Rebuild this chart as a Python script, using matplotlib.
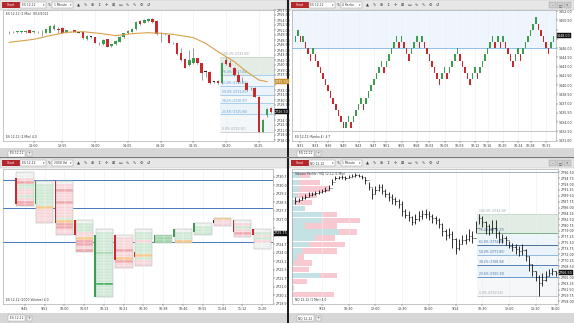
import matplotlib.pyplot as plt
from matplotlib.patches import Rectangle
from matplotlib.ticker import FixedLocator, FuncFormatter, MultipleLocator

W, H = 574, 323
UP, DOWN, DOJI = '#3d9b52', '#c8292c', '#222222'
FS = 2.3
SMALL = 2.2
FIB_RATIOS = [0.0, 0.236, 0.382, 0.5, 0.618, 0.764, 1.0]

# ---- top left: 1 minute candles, moving average, fib retracement ----
tl_open = [2750.3, 2750.4, 2750.3, 2750.3, 2750.3, 2750.9, 2750.3, 2750.4, 2750.4, 2750.2,
           2750.2, 2751.2, 2751.2, 2751.7, 2750.3, 2750.7, 2751.0, 2750.2, 2750.5, 2748.3,
           2749.0, 2748.8, 2747.0, 2746.8, 2748.2, 2746.2, 2746.7, 2747.5, 2748.9, 2750.0,
           2750.5, 2751.2, 2753.7, 2753.2, 2753.7, 2754.3, 2753.7, 2750.0, 2749.7, 2749.6,
           2747.0, 2747.0, 2744.0, 2742.3, 2740.5, 2741.0, 2742.5, 2741.0, 2738.5, 2738.5,
           2735.5, 2735.7, 2735.0, 2742.0, 2741.2, 2739.7, 2737.5, 2736.0, 2735.0, 2733.5,
           2733.5, 2731.0, 2720.5, 2725.5, 2727.5]
tl_high = [2750.7, 2750.7, 2750.8, 2750.8, 2750.9, 2751.0, 2750.8, 2750.7, 2751.0, 2751.4,
           2752.4, 2752.7, 2752.0, 2751.9, 2751.1, 2750.8, 2751.1, 2750.4, 2750.6, 2749.6,
           2749.3, 2749.0, 2747.4, 2748.2, 2748.4, 2746.9, 2748.0, 2749.2, 2750.2, 2751.0,
           2751.5, 2753.6, 2754.0, 2754.2, 2754.6, 2754.5, 2754.0, 2750.3, 2750.0, 2749.8,
           2747.3, 2747.2, 2745.5, 2742.5, 2745.0, 2745.5, 2742.7, 2741.2, 2739.0, 2738.7,
           2735.8, 2735.9, 2741.4, 2743.0, 2742.0, 2740.0, 2738.5, 2737.0, 2735.3, 2734.0,
           2733.8, 2731.2, 2724.2, 2727.5, 2728.0]
tl_low = [2749.8, 2750.1, 2750.2, 2750.2, 2750.2, 2750.1, 2750.2, 2750.1, 2749.2, 2750.0,
          2750.0, 2751.0, 2750.0, 2750.0, 2750.2, 2750.5, 2750.3, 2750.0, 2748.3, 2748.0,
          2748.7, 2747.0, 2746.6, 2746.6, 2745.8, 2746.0, 2746.5, 2747.3, 2748.7, 2749.8,
          2750.3, 2751.0, 2752.6, 2753.0, 2753.5, 2753.2, 2749.5, 2747.5, 2749.4, 2747.0,
          2746.7, 2743.4, 2741.7, 2739.5, 2740.3, 2740.8, 2740.8, 2736.0, 2737.0, 2734.8,
          2735.2, 2734.8, 2734.8, 2740.5, 2739.8, 2737.3, 2735.0, 2735.0, 2732.7, 2733.0,
          2730.8, 2720.3, 2720.3, 2725.0, 2726.0]
tl_close = [2750.3, 2750.4, 2750.7, 2750.7, 2750.8, 2750.2, 2750.7, 2750.4, 2750.3, 2751.2,
            2752.2, 2752.2, 2751.1, 2750.2, 2751.0, 2750.6, 2750.4, 2750.2, 2748.5, 2749.3,
            2749.0, 2747.2, 2747.0, 2748.0, 2746.0, 2746.8, 2747.8, 2749.0, 2750.0, 2750.8,
            2751.3, 2753.4, 2752.8, 2754.0, 2754.3, 2753.4, 2749.7, 2750.0, 2749.7, 2747.2,
            2747.0, 2743.7, 2742.0, 2739.7, 2742.0, 2742.5, 2741.0, 2738.0, 2738.5, 2735.0,
            2735.5, 2735.0, 2741.2, 2740.7, 2740.0, 2737.5, 2735.5, 2736.0, 2733.0, 2733.5,
            2731.0, 2720.5, 2724.0, 2727.2, 2726.5]
tl_ma_idx = [0, 6, 10, 14, 18, 22, 26, 30, 34, 37, 40, 45, 48, 51, 55, 58, 61, 63]
tl_ma_val = [2747.3, 2748.2, 2749.3, 2750.3, 2750.5, 2750.0, 2749.3, 2749.9, 2750.2,
             2750.0, 2749.7, 2748.7, 2747.0, 2744.5, 2741.5, 2738.5, 2736.0, 2735.5]
tl_fib_start = 52
tl_time_idx = [6, 13, 21, 29, 37, 45, 53, 61]
tl_time_lbl = ['13:50', '13:55', '14:00', '14:05', '14:10', '14:15', '14:20', '14:25']

# ---- top right: renko bricks ----
RK_BASE, RK_BRICK = 1433.0, 1.0
rk_level = [14, 15, 14, 14, 13, 12, 11, 12, 11, 10, 9, 8, 7, 6, 5, 4, 3, 2, 1, 0,
            0, 1, 0, 1, 2, 3, 4, 3, 4, 5, 6, 7, 8, 9, 10, 9, 10, 11, 12, 13,
            14, 13, 14, 13, 12, 11, 12, 13, 14, 13, 14, 13, 12, 11, 10, 9, 8, 7, 8, 9,
            8, 9, 10, 11, 12, 11, 10, 9, 8, 7, 8, 9, 8, 9, 10, 11, 12, 13, 14, 13,
            14, 13, 14, 13, 12, 11, 10, 11, 12, 11, 12, 13, 14, 15, 16, 17, 16, 15, 14, 13,
            12, 13, 14]
rk_dir = ('GGRGRRRGRRRRRRRRRRRR' 'GGRGGGGRGGGGGGGRGGGG' 'GRGRRRGGGRGRRRRRRRGG'
          'RGGGGRRRRRGGRGGGGGGR' 'GRGRRRRGGRGGGGGGRRRR' 'RGG')
tr_hline = 1446.0
tr_base_line = 1432.5
tr_time_idx = [2, 8, 13, 19, 25, 31, 36, 42, 48, 53, 59, 65, 71, 76, 82, 88, 93, 99]
tr_time_lbl = ['9:31', '9:33', '9:36', '9:40', '9:43', '9:47', '9:51', '9:55', '9:58',
               '10:02', '10:05', '10:09', '10:12', '10:16', '10:20', '10:24', '10:28', '10:31']

# ---- bottom left: volume footprint bars ----
fp_high = [2731.00, 2730.25, 2730.25, 2726.75, 2726.00, 2725.50, 2726.00,
           2725.50, 2726.00, 2726.50, 2727.00, 2726.75, 2726.00]
fp_low = [2728.25, 2726.75, 2725.75, 2724.25, 2720.25, 2722.75, 2723.00,
          2725.00, 2725.00, 2725.75, 2726.50, 2725.50, 2724.50]
fp_open = [2730.50, 2728.50, 2730.25, 2726.75, 2720.25, 2725.50, 2724.00,
           2725.00, 2725.50, 2726.00, 2726.75, 2726.75, 2726.00]
fp_close = [2728.50, 2730.25, 2726.75, 2725.75, 2725.50, 2723.50, 2723.75,
            2725.50, 2726.00, 2726.50, 2726.75, 2726.00, 2725.75]
fp_cells = ['wwpPggppgpPP', 'wggggggggyppppp', 'wppPpppPpppppgyPPpp', 'wgggppyPPpP',
            'wgggggggGggggggggggDgggg', 'wppppPppyPpp', 'wgggpggggygpp', 'GGG',
            'wgggy', 'wggg', 'ypp', 'wpgpPp', 'wgpgpww']
fp_lines = [2730.5, 2728.0, 2725.0]
bl_time_lbl = ['9:45', '9:52', '10:00', '10:07', '10:13', '10:21', '10:30',
               '10:38', '10:46', '10:55', '11:04', '11:12', '11:20']

# ---- bottom right: OHLC bars with volume profile and fib ----
br_high = [2789.0, 2788.8, 2789.5, 2790.0, 2790.5, 2790.7, 2791.0, 2791.2, 2791.5, 2792.0,
           2792.8, 2794.5, 2795.5, 2795.5, 2795.8, 2795.5, 2795.8, 2796.0, 2796.2, 2796.0,
           2795.8, 2795.2, 2793.5, 2791.8, 2792.5, 2793.0, 2793.0, 2791.5, 2790.5, 2790.0,
           2789.2, 2788.5, 2788.0, 2785.5, 2785.0, 2783.5, 2784.0, 2785.0, 2785.2, 2785.5,
           2785.0, 2784.2, 2783.5, 2782.8, 2781.5, 2779.5, 2780.0, 2779.0, 2777.0, 2776.5,
           2777.8, 2778.0, 2779.5, 2779.0, 2782.0, 2784.2, 2783.5, 2782.0, 2781.0, 2782.2,
           2782.2, 2779.0, 2778.0, 2777.5, 2776.0, 2775.5, 2775.0, 2774.5, 2775.0, 2773.5,
           2771.5, 2769.0, 2767.0, 2766.0, 2766.5, 2767.0, 2767.5, 2767.8, 2767.2]
br_low = [2787.2, 2787.5, 2788.2, 2788.5, 2789.2, 2789.5, 2789.8, 2790.0, 2790.3, 2790.5,
          2791.2, 2792.8, 2794.2, 2794.5, 2794.5, 2794.2, 2794.8, 2795.0, 2795.2, 2795.0,
          2794.5, 2793.0, 2791.2, 2788.5, 2790.0, 2790.8, 2790.0, 2789.0, 2788.0, 2787.2,
          2786.8, 2786.0, 2783.5, 2783.0, 2782.0, 2780.8, 2781.0, 2782.0, 2782.5, 2783.0,
          2782.2, 2781.5, 2781.0, 2780.0, 2777.5, 2776.2, 2776.8, 2774.0, 2772.0, 2773.2,
          2775.0, 2775.2, 2776.0, 2775.5, 2778.5, 2781.0, 2780.2, 2778.0, 2777.8, 2778.5,
          2777.0, 2775.5, 2775.5, 2774.8, 2773.8, 2773.0, 2772.0, 2771.5, 2771.8, 2770.0,
          2767.0, 2765.5, 2764.0, 2759.5, 2762.5, 2764.0, 2765.5, 2766.0, 2765.5]
br_close = [2788.0, 2788.2, 2788.8, 2789.2, 2789.7, 2790.0, 2790.3, 2790.5, 2790.8, 2791.2,
            2791.8, 2793.5, 2794.8, 2795.0, 2795.2, 2794.8, 2795.2, 2795.5, 2795.8, 2795.5,
            2795.0, 2794.2, 2792.0, 2790.0, 2791.2, 2792.0, 2791.0, 2790.0, 2789.2, 2788.5,
            2787.8, 2787.2, 2785.0, 2783.8, 2783.2, 2781.8, 2782.5, 2783.5, 2784.0, 2784.2,
            2783.5, 2782.8, 2782.2, 2781.0, 2779.0, 2777.8, 2778.2, 2776.5, 2774.0, 2775.0,
            2776.2, 2776.5, 2777.5, 2777.0, 2780.0, 2783.0, 2781.8, 2780.5, 2779.5, 2780.0,
            2778.5, 2776.5, 2776.8, 2776.2, 2774.5, 2774.2, 2773.5, 2773.0, 2773.2, 2771.5,
            2769.0, 2767.0, 2765.2, 2763.5, 2764.5, 2765.5, 2766.5, 2767.0, 2766.5]
br_fib_start = 55
br_top_line = 2796.5
vp_price = [2795.5, 2793.5, 2791.5, 2789.5, 2787.5, 2785.8, 2784.0, 2782.2, 2780.5, 2778.7,
            2776.9, 2775.0, 2773.0, 2771.2, 2769.4, 2767.5, 2765.7, 2763.9, 2762.0, 2760.0]
vp_bid = [25, 20, 20, 15, 10, 35, 90, 90, 40, 140, 70, 50, 30, 15, 5, 3, 85, 3, 2, 2]
vp_ask = [30, 65, 95, 60, 50, 5, 45, 115, 95, 55, 60, 110, 105, 20, 55, 47, 50, 42, 3, 123]
br_time_idx = [8, 16, 24, 32, 40, 48, 56, 64, 72, 78]
br_time_lbl = ['9/13', '10:30', '12:00', '13:30', '15:00', '9/14', '10:30', '12:00', '13:30', '15:00']

fig = plt.figure(figsize=(W / 100, H / 100), dpi=100)
fig.patch.set_facecolor('white')

bg = fig.add_axes([0, 0, 1, 1], zorder=-10)
bg.set_xlim(0, W)
bg.set_ylim(H, 0)
bg.axis('off')


def px_axes(x, y, w, h):
    return fig.add_axes([x / W, 1 - (y + h) / H, w / W, h / H])


def chrome(x0, w, ytool, ytab, instrument, interval, controls):
    bg.add_patch(Rectangle((x0, ytool), w, 10, fc='#e7e7e7', ec='#b8b8b8', lw=0.3))
    bg.add_patch(Rectangle((x0 + 2, ytool + 2), 18, 6.3, fc='#b3282d'))
    bg.text(x0 + 11, ytool + 5.2, 'Chart', color='white', fontsize=SMALL, ha='center', va='center')
    bg.add_patch(Rectangle((x0 + 20, ytool + 2), 26, 6.3, fc='white', ec='#8c8c8c', lw=0.3))
    bg.text(x0 + 21.5, ytool + 5.2, instrument, fontsize=SMALL, va='center', color='#333333')
    bg.text(x0 + 44, ytool + 5.2, '▾', fontsize=SMALL, va='center', ha='center', color='#333333')
    bg.text(x0 + 49, ytool + 5.2, '✎', fontsize=SMALL + 0.5, va='center', ha='center', color='#333333')
    bg.add_patch(Rectangle((x0 + 52, ytool + 2), 21, 6.3, fc='white', ec='#8c8c8c', lw=0.3))
    bg.text(x0 + 53.5, ytool + 5.2, interval, fontsize=SMALL, va='center', color='#333333')
    bg.text(x0 + 71, ytool + 5.2, '▾', fontsize=SMALL, va='center', ha='center', color='#333333')
    for k, glyph in enumerate(['▲', '✎', '⊕', '↕', '✛', '⊞', '▭', '∿', '✎', '⚙', '↺']):
        bg.text(x0 + 78 + 7 * k, ytool + 5.2, glyph, fontsize=SMALL + 0.6, va='center',
                ha='center', color='#3a3a3a')
    if controls:
        for k, glyph in enumerate(['–', '□', '×']):
            bg.add_patch(Rectangle((x0 + w - 25 + 7.5 * k, ytool + 2), 6.5, 6, fc='#cfcfcf',
                                   ec='#9a9a9a', lw=0.3))
            bg.text(x0 + w - 21.75 + 7.5 * k, ytool + 5, glyph, fontsize=SMALL, ha='center',
                    va='center', color='#333333')
    bg.add_patch(Rectangle((x0, ytab), w, 10.5, fc='#d7d7d7'))
    bg.add_patch(Rectangle((x0 + 8, ytab + 2.5), 17, 6, fc='white', ec='#999999', lw=0.3))
    bg.text(x0 + 16.5, ytab + 5.5, instrument, fontsize=SMALL, ha='center', va='center', color='#333333')
    bg.add_patch(Rectangle((x0 + 27, ytab + 3), 5, 5, fc='#eeeeee', ec='#999999', lw=0.3))
    bg.text(x0 + 29.5, ytab + 5.5, '+', fontsize=SMALL + 0.5, ha='center', va='center', color='#333333')


def style(ax, xlim, ylim, ystep, tick_idx, tick_lbl, tags):
    ax.set_xlim(*xlim)
    ax.set_ylim(*ylim)
    ax.set_facecolor('white')
    for sp in ax.spines.values():
        sp.set_color('#9a9a9a')
        sp.set_linewidth(0.4)
    ax.yaxis.tick_right()
    ax.yaxis.set_major_locator(MultipleLocator(ystep))
    # price labels hidden where a price tag sits on the axis
    ax.yaxis.set_major_formatter(FuncFormatter(
        lambda v, p: '' if any(abs(v - t) < ystep * 0.75 for t in tags) else f'{v:.2f}'))
    ax.xaxis.set_major_locator(FixedLocator(tick_idx))
    ax.set_xticklabels(tick_lbl)
    ax.tick_params(labelsize=FS, length=1.2, width=0.3, pad=1, colors='#333333')
    ax.grid(axis='x', color='#eeeeee', lw=0.4)
    ax.set_axisbelow(True)


def price_tag(ax, value, fc, fg='white'):
    ax.text(1.004, value, f'{value:.2f}', transform=ax.get_yaxis_transform(), fontsize=FS,
            color=fg, va='center', ha='left',
            bbox=dict(boxstyle='square,pad=0.15', fc=fc, ec=fc, lw=0.3), zorder=10, clip_on=False)


def candles(ax, o, h, l, c, width):
    idx = range(len(c))
    cols = [UP if cc > oo else DOWN if cc < oo else DOJI for oo, cc in zip(o, c)]
    ax.vlines(idx, l, h, colors='#555555', lw=0.4, zorder=2)
    ax.bar(idx, [max(abs(cc - oo), 0.12) for oo, cc in zip(o, c)],
           bottom=[min(oo, cc) for oo, cc in zip(o, c)], width=width, color=cols, lw=0, zorder=3)


def fib(ax, x_start, hi, lo, line_cols, band_cols, label_col):
    levels = [lo + r * (hi - lo) for r in FIB_RATIOS]
    x_end = ax.get_xlim()[1]
    for k in range(len(levels) - 1):
        ax.fill_between([x_start, x_end], levels[k], levels[k + 1], color=band_cols[k], lw=0, zorder=0.5)
    ax.hlines(levels, x_start, x_end, colors=line_cols, lw=0.6, zorder=1)
    for r, lev in zip(FIB_RATIOS, levels):
        col = '#9aa3a8' if r in (0.0, 1.0) else label_col
        ax.text(x_start + 0.6, lev + (hi - lo) * 0.012, f'{r * 100:.1f}% ({lev:.2f})',
                fontsize=SMALL, color=col, va='bottom', zorder=1.5)


# panel chrome and dividers
chrome(0, 287, 0, 148, 'ES 12-12', '1 Minute', False)
chrome(289, 285, 0, 148, 'ES 12-12', '4 Renko', True)
chrome(0, 287, 158, 312.5, 'ES 12-12', '2000 Vol', False)
chrome(289, 285, 158, 312.5, 'NQ 12-12', '1 Minute', True)
bg.add_patch(Rectangle((287, 0), 2, H, fc='#1c1c1c'))
bg.add_patch(Rectangle((0, 157.4), W, 0.8, fc='#777777'))

# top left
ax = px_axes(3, 10, 271, 131)
style(ax, (-1.5, 64.7), (2717.7, 2757.0), 1.5, tl_time_idx, tl_time_lbl,
      [tl_ma_val[-1], tl_close[-1]])
candles(ax, tl_open, tl_high, tl_low, tl_close, 0.62)
ax.plot(tl_ma_idx, tl_ma_val, color='#d7a24a', lw=0.8, zorder=4)
fib(ax, tl_fib_start - 0.5, max(tl_high[tl_fib_start:]), min(tl_low[tl_fib_start:]),
    ['#c3ccd1'] + ['#9cc8e8'] * 5 + ['#c6d6ca'],
    ['#f4f7f9', '#eaf3fa', '#f4f8fb', '#eaf3fa', '#f0f6fb', '#e3ede6'], '#5b9bd5')
ax.text(0.01, 0.985, 'ES 12-12 (1 Min)  9/14/2012', transform=ax.transAxes, fontsize=SMALL,
        va='top', color='#333333')
ax.text(0.01, 0.015, 'ES 12-12 (1 Min) 4.0', transform=ax.transAxes, fontsize=SMALL,
        va='bottom', color='#333333')
price_tag(ax, tl_ma_val[-1], '#c8902e')
price_tag(ax, tl_close[-1], '#111111')

# top right
rk_low = [RK_BASE + lv * RK_BRICK for lv in rk_level]
ax = px_axes(292, 10, 264, 131)
style(ax, (-1.3, 103.0), (RK_BASE - 2.05 * RK_BRICK, RK_BASE + 19.2 * RK_BRICK), 1.5,
      tr_time_idx, tr_time_lbl, [rk_low[-1] + RK_BRICK])
ax.axhspan(tr_hline, RK_BASE + 20 * RK_BRICK, color='#eef5fc', lw=0, zorder=0)
ax.axhline(tr_hline, color='#8cc2ee', lw=0.7, zorder=1)
ax.axhline(tr_base_line, color='#9a9a9a', lw=0.4, zorder=1)
ax.bar(range(len(rk_low)), RK_BRICK, bottom=rk_low, width=0.6,
       color=[UP if d == 'G' else DOWN for d in rk_dir], lw=0, zorder=3)
ax.text(0.01, 0.015, 'ES 12-12 (Renko 4)  4 T', transform=ax.transAxes, fontsize=SMALL,
        va='bottom', color='#333333')
price_tag(ax, rk_low[-1] + RK_BRICK, '#111111')

# bottom left
cell_col = {'w': '#eef2ee', 'g': '#cfe8d3', 'G': '#9fd3a9', 'D': '#2fa84f',
            'p': '#f7d6da', 'P': '#eea8ae', 'y': '#f6c98e'}
ax = px_axes(3, 169, 270, 135)
style(ax, (-1.1, 12.55), (2719.48, 2731.43), 0.75, list(range(len(bl_time_lbl))), bl_time_lbl,
      [fp_close[-1]])
for lv in fp_lines:
    ax.axhline(lv, color='#4477bb', lw=0.7, zorder=1)
for i, (hi, lo, op, cl, cells) in enumerate(zip(fp_high, fp_low, fp_open, fp_close, fp_cells)):
    for k, code in enumerate(cells):
        p = hi - 0.25 * k
        ax.add_patch(Rectangle((i - 0.42, p - 0.125), 0.87, 0.25, fc=cell_col[code],
                               ec='white', lw=0.2, zorder=2))
    ax.vlines(i + 0.015, lo - 0.125, hi + 0.125, colors='white', lw=0.3, zorder=2.5)
    ax.add_patch(Rectangle((i - 0.42, lo - 0.125), 0.87, hi - lo + 0.25, fill=False,
                           ec='#a5a5a5', lw=0.3, zorder=3))
    col = UP if cl > op else DOWN if cl < op else DOJI
    ax.bar(i - 0.45, abs(cl - op) + 0.25, bottom=min(op, cl) - 0.125, width=0.08,
           color=col, lw=0, zorder=4)
ax.text(0.01, 0.015, 'ES 12-12 (2000 Volume) 4.0', transform=ax.transAxes, fontsize=SMALL,
        va='bottom', color='#333333')
price_tag(ax, fp_close[-1], '#111111')

# bottom right
ax = px_axes(292, 169, 266, 135)
style(ax, (-1.0, 78.7), (2757.2, 2797.5), 1.75, br_time_idx, br_time_lbl, [br_close[-1]])
vp = ax.twiny()
vp.set_xlim(0, 797)
vp.axis('off')
vp.barh(vp_price, vp_bid, height=1.6, color='#c4e2e6', lw=0)
vp.barh(vp_price, vp_ask, left=vp_bid, height=1.6, color='#f8c9d1', lw=0)
ax.set_zorder(vp.get_zorder() + 1)
ax.patch.set_visible(False)
fib(ax, br_fib_start - 0.5, max(br_high[br_fib_start:]), min(br_low[br_fib_start:]),
    ['#b9c0c6', '#4b86c0', '#3f6fa8', '#7fb0dc', '#2f5b8a', '#6aa37a', '#c9d7cc'],
    ['#f5f7f9', '#eaf3fa', '#f3f7fa', '#eaf3fa', '#eef5fa', '#e1ede4'], '#3a6fa8')
ax.axhline(br_top_line, color='#8fa7bf', lw=0.6, zorder=1)
idx = list(range(len(br_close)))
ax.vlines(idx, br_low, br_high, colors='#111111', lw=0.6, zorder=3)
ax.hlines(br_close[:-1], [i - 0.35 for i in idx[1:]], idx[1:], colors='#111111', lw=0.5, zorder=3)
ax.hlines(br_close, idx, [i + 0.35 for i in idx], colors='#111111', lw=0.5, zorder=3)
ax.text(0.01, 0.985, 'Volume Profile / NQ 12-12 (1 Min)', transform=ax.transAxes,
        fontsize=SMALL, va='top', color='#333333')
ax.text(0.01, 0.015, 'NQ 12-12 (1 Min) 4.0', transform=ax.transAxes, fontsize=SMALL,
        va='bottom', color='#333333')
price_tag(ax, br_close[-1], '#111111')

fig.savefig('out.png', dpi=100, facecolor=fig.get_facecolor())
